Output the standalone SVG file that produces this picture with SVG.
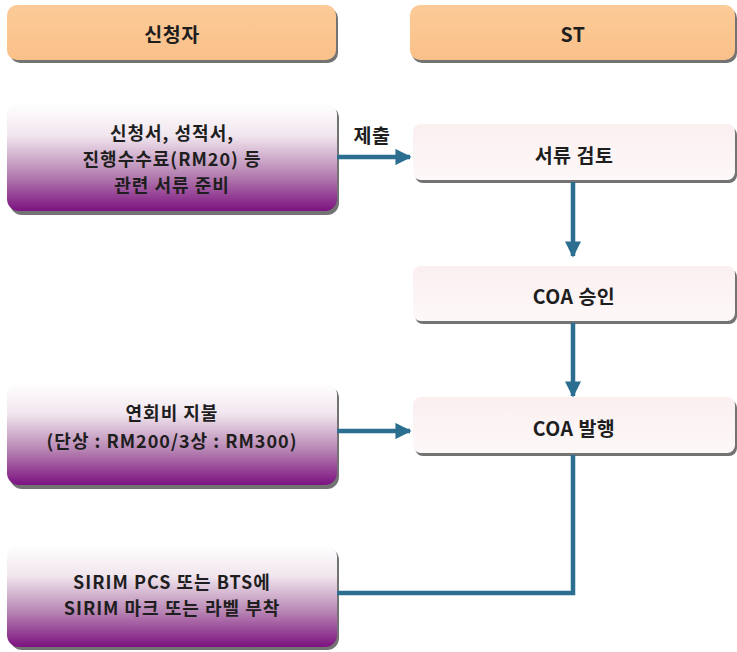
<svg xmlns="http://www.w3.org/2000/svg" width="737" height="652" viewBox="0 0 737 652">
<defs>
<linearGradient id="gPurple" x1="0" y1="0" x2="0" y2="1">
<stop offset="0" stop-color="#FFFFFF"/>
<stop offset="0.3" stop-color="#F1E6EE"/>
<stop offset="0.65" stop-color="#B886B4"/>
<stop offset="1" stop-color="#7C1280"/>
</linearGradient>
<linearGradient id="gPink" x1="0" y1="0" x2="0" y2="1">
<stop offset="0" stop-color="#FBEFF0"/>
<stop offset="1" stop-color="#FDF8F8"/>
</linearGradient>
<linearGradient id="gPeach" x1="0" y1="0" x2="0" y2="1">
<stop offset="0" stop-color="#FCCB98"/>
<stop offset="1" stop-color="#FAC089"/>
</linearGradient>
<marker id="ah" viewBox="0 0 10 10" refX="9" refY="5" markerWidth="3.6" markerHeight="3.6" markerUnits="strokeWidth" orient="auto">
<path d="M0,0 L10,5 L0,10 Z" fill="#2C6E90"/>
</marker>
</defs>
<style>
.sh{fill:#5a5a5a;opacity:0.85}
.hd{fill:url(#gPeach)}
.pu{fill:url(#gPurple)}
.pk{fill:url(#gPink)}
text{font-family:"Noto Sans CJK KR","Noto Sans",sans-serif;font-weight:bold;font-size:18px;letter-spacing:1px;fill:#1e1e1e;text-anchor:middle;dominant-baseline:central}
.big{font-size:19.5px;letter-spacing:0.5px}
.cn{fill:none;stroke:#2C6E90;stroke-width:4.5}
</style>
<g id="header-applicant">
<rect class="sh" x="10" y="8" width="328" height="55" rx="10"/>
<rect class="hd" x="7" y="5" width="329" height="55" rx="10"/>
<text class="big" x="172" y="33">신청자</text>
</g>
<g id="header-st">
<rect class="sh" x="412" y="8" width="325" height="55" rx="10"/>
<rect class="hd" x="410" y="5" width="325" height="55" rx="10"/>
<text class="big" x="573" y="33">ST</text>
</g>
<g id="node-docs">
<rect class="sh" x="10" y="106" width="329" height="109" rx="12"/>
<rect class="pu" x="7" y="103" width="330" height="108" rx="12"/>
<text x="172" y="132">신청서, 성적서,</text>
<text x="172" y="158">진행수수료(RM20) 등</text>
<text x="172" y="184">관련 서류 준비</text>
</g>
<g id="node-review">
<rect class="sh" x="415" y="127" width="322" height="56" rx="8"/>
<rect class="pk" x="413" y="124" width="322" height="56" rx="8"/>
<text class="big" x="574" y="154">서류 검토</text>
</g>
<g id="node-approve">
<rect class="sh" x="415" y="269" width="322" height="55" rx="8"/>
<rect class="pk" x="413" y="266" width="322" height="55" rx="8"/>
<text class="big" x="574" y="295">COA 승인</text>
</g>
<g id="node-issue">
<rect class="sh" x="415" y="400" width="322" height="56" rx="8"/>
<rect class="pk" x="413" y="397" width="322" height="56" rx="8"/>
<text class="big" x="574" y="427">COA 발행</text>
</g>
<g id="node-fee">
<rect class="sh" x="10" y="386" width="329" height="103" rx="12"/>
<rect class="pu" x="7" y="383" width="330" height="102" rx="12"/>
<text x="172" y="412">연회비 지불</text>
<text x="172" y="440">(단상 : RM200/3상 : RM300)</text>
</g>
<g id="node-mark">
<rect class="sh" x="10" y="548" width="329" height="102" rx="12"/>
<rect class="pu" x="7" y="545" width="330" height="102" rx="12"/>
<text x="172" y="581">SIRIM PCS 또는 BTS에</text>
<text x="172" y="607">SIRIM 마크 또는 라벨 부착</text>
</g>
<g id="connectors">
<line class="cn" x1="337" y1="157" x2="410" y2="157" marker-end="url(#ah)"/>
<text class="big" x="372" y="134">제출</text>
<line class="cn" x1="573" y1="182" x2="573" y2="256" marker-end="url(#ah)"/>
<line class="cn" x1="573" y1="323" x2="573" y2="396" marker-end="url(#ah)"/>
<line class="cn" x1="337" y1="431" x2="410" y2="431" marker-end="url(#ah)"/>
<polyline class="cn" points="573,455 573,593 337,593"/>
</g>
</svg>
